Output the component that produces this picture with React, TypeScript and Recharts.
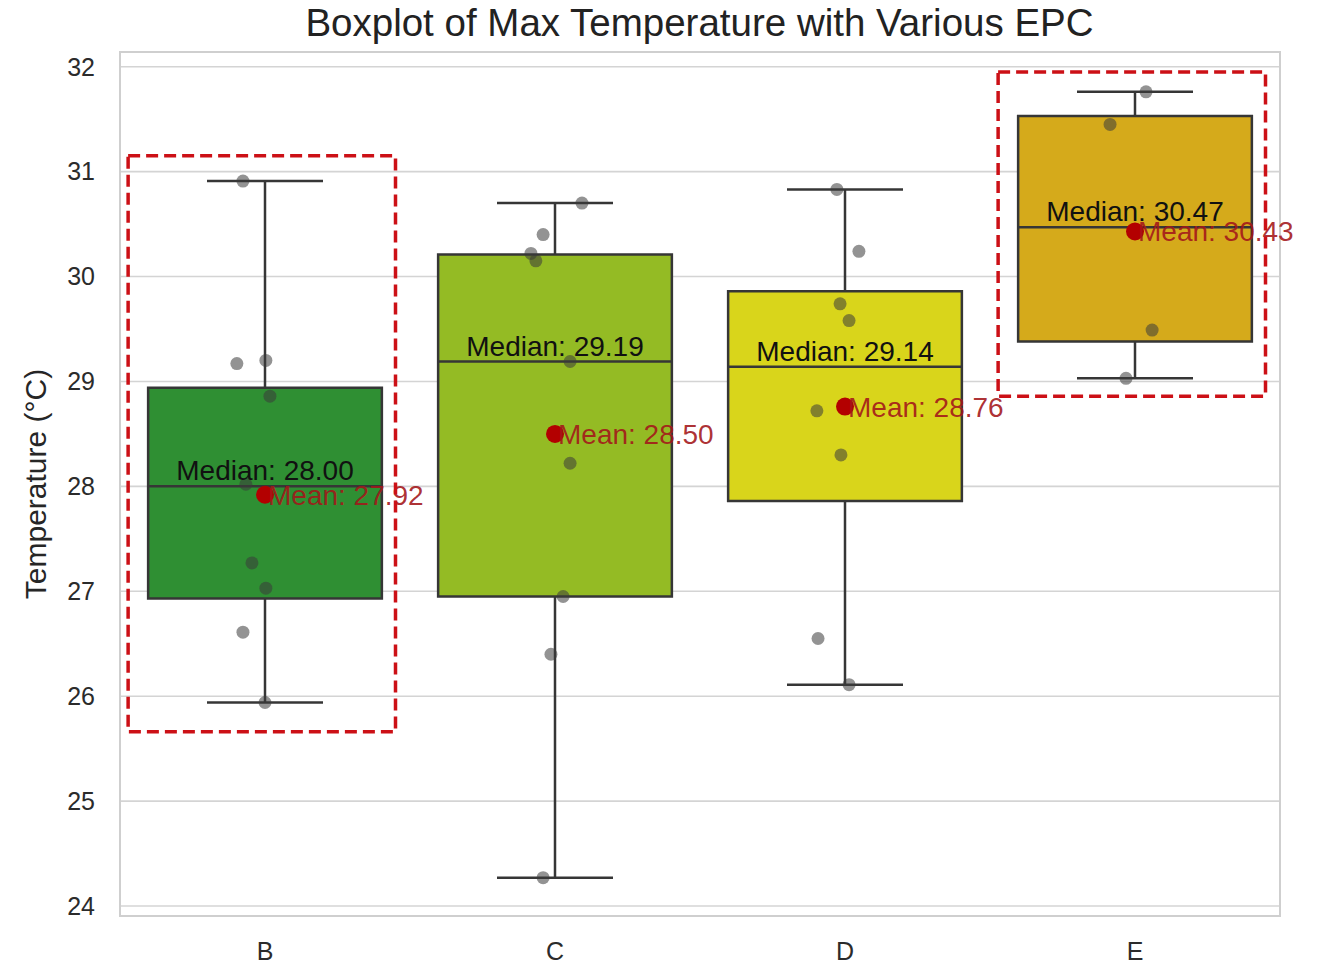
import React from "react"
import {
  ComposedChart,
  XAxis,
  YAxis,
  CartesianGrid,
  Scatter,
  ReferenceArea,
  ReferenceLine,
} from "recharts"

const categories = ["B", "C", "D", "E"]
const q1Values = [26.93, 26.95, 27.86, 29.38]
const q3Values = [28.94, 30.21, 29.86, 31.53]
const medianValues = [28.0, 29.19, 29.14, 30.47]
const meanValues = [27.92, 28.5, 28.76, 30.43]
const whiskerLow = [25.94, 24.27, 26.11, 29.03]
const whiskerHigh = [30.91, 30.7, 30.83, 31.76]
const boxColors = ["#2f8f33", "#94bb24", "#d9d51b", "#d5aa1b"]

// raw observations (strip plot) and their horizontal jitter
const obsB = [30.91, 29.17, 29.2, 28.86, 28.02, 27.27, 27.03, 26.61, 25.94]
const jitB = [-0.076, -0.097, 0.003, 0.017, -0.066, -0.045, 0.003, -0.076, 0]
const obsC = [30.7, 30.4, 30.22, 30.15, 29.19, 28.22, 26.95, 26.4, 24.27]
const jitC = [0.093, -0.041, -0.083, -0.066, 0.052, 0.052, 0.028, -0.014, -0.041]
const obsD = [30.83, 30.24, 29.74, 29.58, 28.72, 28.3, 26.55, 26.11]
const jitD = [-0.028, 0.048, -0.017, 0.014, -0.097, -0.014, -0.093, 0.014]
const obsE = [31.76, 31.45, 29.49, 29.03]
const jitE = [0.038, -0.086, 0.059, -0.031]

// highlighted groups (dashed frames)
const highlightIdx = [0, 3]
const highlightLow = [25.66, 28.86]
const highlightHigh = [31.15, 31.95]

const yTicks = [24, 25, 26, 27, 28, 29, 30, 31, 32]
const yMin = 23.905
const yMax = 32.14

const font = "'Liberation Sans', Arial, sans-serif"
const edge = "#363636"

const observations = [obsB, obsC, obsD, obsE].flatMap((vals, i) =>
  vals.map((v, k) => ({ x: i + [jitB, jitC, jitD, jitE][i][k], y: v }))
)
const medianPts = medianValues.map((m, i) => ({ x: i, y: m, label: `Median: ${m.toFixed(2)}` }))
const meanPts = meanValues.map((m, i) => ({ x: i, y: m, label: `Mean: ${m.toFixed(2)}` }))

function MedianText(p: any) {
  return (
    <text x={p.cx} y={p.cy - 6} textAnchor="middle" fontSize={28} fontFamily={font} fill="#111">
      {p.payload.label}
    </text>
  )
}

function MeanMark(p: any) {
  return (
    <g>
      <circle cx={p.cx} cy={p.cy} r={9} fill="#b30000" />
      <text x={p.cx + 3} y={p.cy + 10} fontSize={28} fontFamily={font} fill="#a3161a" fillOpacity={0.9}>
        {p.payload.label}
      </text>
    </g>
  )
}

function YLabel(p: any) {
  const vb = p.viewBox || { x: 60, y: 52, width: 60, height: 864 }
  const cx = vb.x - 25
  const cy = vb.y + vb.height / 2
  return (
    <text
      x={cx}
      y={cy}
      transform={`rotate(-90 ${cx} ${cy})`}
      textAnchor="middle"
      dominantBaseline="central"
      fontSize={30}
      fontFamily={font}
      fill="#262626"
    >
      Temperature (°C)
    </text>
  )
}

export default function App() {
  return (
    <div style={{ position: "absolute", left: 0, top: 0, width: 1319, height: 966, background: "#fff" }}>
      <div
        style={{
          position: "absolute",
          left: 0,
          top: 0,
          width: 1399,
          height: 46,
          lineHeight: "46px",
          textAlign: "center",
          fontFamily: font,
          fontSize: 38.5,
          color: "#222",
          zIndex: 2,
        }}
      >
        Boxplot of Max Temperature with Various EPC
      </div>
      <ComposedChart width={1319} height={966} margin={{ top: 52, right: 39, bottom: 0, left: 60 }}>
        <CartesianGrid vertical={false} stroke="#d4d4d4" strokeWidth={1.6} />
        <XAxis
          type="number"
          dataKey="x"
          domain={[-0.5, 3.5]}
          ticks={[0, 1, 2, 3]}
          tickFormatter={(v: number) => categories[v] ?? ""}
          axisLine={false}
          tickLine={false}
          tickSize={0}
          tickMargin={26}
          height={50}
          tick={{ fontSize: 25, fill: "#2b2b2b", fontFamily: font }}
        />
        <YAxis
          type="number"
          dataKey="y"
          domain={[yMin, yMax]}
          ticks={yTicks}
          axisLine={false}
          tickLine={false}
          tickSize={0}
          tickMargin={25}
          width={60}
          tick={{ fontSize: 25, fill: "#2b2b2b", fontFamily: font }}
          label={YLabel}
        />
        <ReferenceArea
          x1={-0.5}
          x2={3.5}
          y1={yMin}
          y2={yMax}
          fill="none"
          stroke="#cfcfcf"
          strokeWidth={2}
          ifOverflow="visible"
          zIndex={-50}
        />
        {categories.map((c, i) => (
          <ReferenceLine
            key={`wl${c}`}
            segment={[{ x: i, y: whiskerLow[i] }, { x: i, y: q1Values[i] }]}
            stroke={edge}
            strokeWidth={2.5}
            zIndex={40}
          />
        ))}
        {categories.map((c, i) => (
          <ReferenceLine
            key={`wh${c}`}
            segment={[{ x: i, y: q3Values[i] }, { x: i, y: whiskerHigh[i] }]}
            stroke={edge}
            strokeWidth={2.5}
            zIndex={40}
          />
        ))}
        {categories.map((c, i) => (
          <ReferenceLine
            key={`cl${c}`}
            segment={[{ x: i - 0.2, y: whiskerLow[i] }, { x: i + 0.2, y: whiskerLow[i] }]}
            stroke={edge}
            strokeWidth={2.5}
            zIndex={40}
          />
        ))}
        {categories.map((c, i) => (
          <ReferenceLine
            key={`ch${c}`}
            segment={[{ x: i - 0.2, y: whiskerHigh[i] }, { x: i + 0.2, y: whiskerHigh[i] }]}
            stroke={edge}
            strokeWidth={2.5}
            zIndex={40}
          />
        ))}
        {categories.map((c, i) => (
          <ReferenceArea
            key={`box${c}`}
            x1={i - 0.403}
            x2={i + 0.403}
            y1={q1Values[i]}
            y2={q3Values[i]}
            fill={boxColors[i]}
            fillOpacity={1}
            stroke={edge}
            strokeWidth={2.5}
            zIndex={50}
          />
        ))}
        {categories.map((c, i) => (
          <ReferenceLine
            key={`med${c}`}
            segment={[{ x: i - 0.403, y: medianValues[i] }, { x: i + 0.403, y: medianValues[i] }]}
            stroke={edge}
            strokeWidth={2.5}
            zIndex={60}
          />
        ))}
        <Scatter data={observations} fill="#3a3a3a" fillOpacity={0.55} shape={(p: any) => (
          <circle cx={p.cx} cy={p.cy} r={6.5} fill="#3a3a3a" fillOpacity={0.55} />
        )} isAnimationActive={false} />
        <Scatter data={medianPts} shape={MedianText} isAnimationActive={false} />
        <Scatter data={meanPts} shape={MeanMark} isAnimationActive={false} />
        {highlightIdx.map((idx, k) => (
          <ReferenceArea
            key={`hl${idx}`}
            x1={idx - 0.472}
            x2={idx + 0.45}
            y1={highlightLow[k]}
            y2={highlightHigh[k]}
            fill="none"
            stroke="#cc1016"
            strokeWidth={3.5}
            strokeDasharray="12 6"
            ifOverflow="visible"
            zIndex={700}
          />
        ))}
      </ComposedChart>
    </div>
  )
}
